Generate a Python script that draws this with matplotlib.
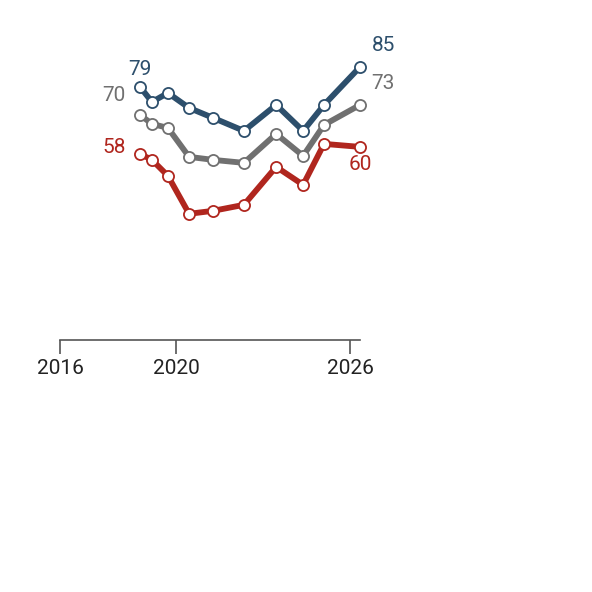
import matplotlib.pyplot as plt

years = [2018.76, 2019.17, 2019.72, 2020.45, 2021.28, 2022.34, 2023.45, 2024.38, 2025.1, 2026.34]
blue = [79, 74.5, 77.2, 72.7, 69.7, 65.8, 73.6, 65.8, 73.6, 85]
gray = [70.6, 67.9, 66.7, 58, 57.1, 56.2, 64.9, 58.3, 67.6, 73.6]
red = [58.9, 57.1, 52.3, 40.9, 41.8, 43.6, 55, 49.6, 61.9, 61]
tick_years = [2016, 2020, 2026]

plt.rcParams["font.family"] = ["Roboto", "DejaVu Sans"]
fig = plt.figure(figsize=(5.92, 5.92), dpi=100)
ax = fig.add_axes([60 / 592, 252 / 592, 300 / 592, 300 / 592])

series = [
    (blue, "#2d4f6c", "79", "85", 0, 3.5),
    (gray, "#707070", "70", "73", 0, 3.5),
    (red, "#b0261e", "58", "60", -4, -6),
]
for vals, col, first, last, dy0, dy1 in series:
    ax.plot(years, vals, color=col, linewidth=4.2, marker="o", markersize=8,
            markerfacecolor="white", markeredgecolor=col, markeredgewidth=1.3,
            solid_joinstyle="round", zorder=3, clip_on=False)
    ax.text(years[0] - 0.5, vals[0] + 3 + dy0, first, color=col, fontsize=15,
            ha="right" if col != "#2d4f6c" else "center", va="bottom")
    ax.text(years[-1] + 0.4, vals[-1] + dy1, last, color=col, fontsize=15,
            ha="left" if col != "#b0261e" else "center", va="bottom" if col != "#b0261e" else "top")

# reposition first blue label above point
ax.texts[0].set_position((years[0], blue[0] + 2.5))
ax.texts[-1].set_position((years[-1], red[-1] - 2.5))

ax.set_xlim(2016, 2026.34)
ax.set_ylim(3.0, 93.1)
ax.set_yticks([])
ax.set_xticks(tick_years)
ax.set_xticklabels([str(y) for y in tick_years], fontsize=15, color="#222222")
ax.tick_params(axis="x", length=10, width=1.2, color="#555555", pad=4)
for s in ["top", "right", "left"]:
    ax.spines[s].set_visible(False)
ax.spines["bottom"].set_color("#555555")
ax.spines["bottom"].set_linewidth(1.2)
ax.patch.set_alpha(0)

fig.savefig("out.png", dpi=100)
